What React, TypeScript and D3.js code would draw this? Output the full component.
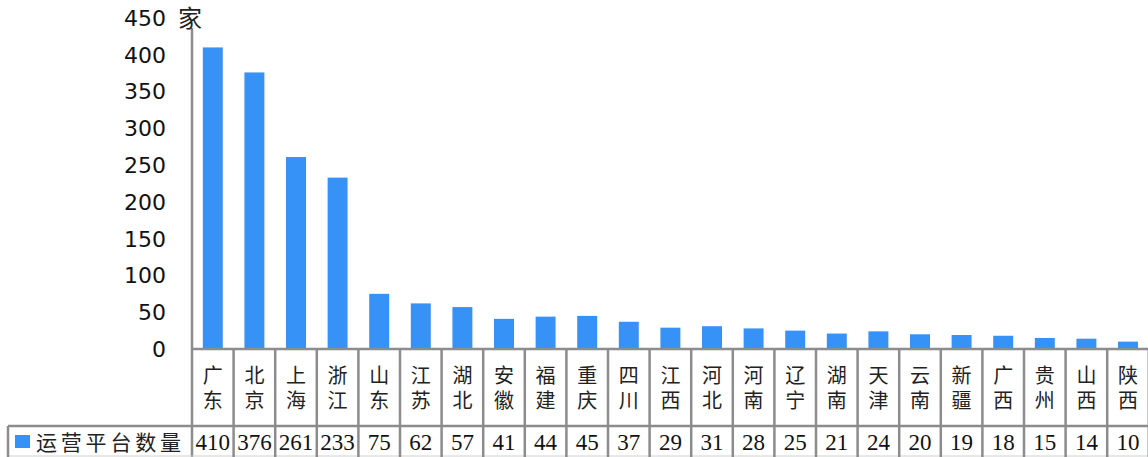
import React from 'react';
import * as d3 from 'd3';

// 各省运营平台数量
const provinces = ['广东', '北京', '上海', '浙江', '山东', '江苏', '湖北', '安徽', '福建', '重庆', '四川', '江西', '河北', '河南', '辽宁', '湖南', '天津', '云南', '新疆', '广西', '贵州', '山西', '陕西'];
const platformCounts = [410, 376, 261, 233, 75, 62, 57, 41, 44, 45, 37, 29, 31, 28, 25, 21, 24, 20, 19, 18, 15, 14, 10];
const yTicks = [0, 50, 100, 150, 200, 250, 300, 350, 400, 450];
const seriesName = '运营平台数量';
const unitLabel = '家';

const W = 1148;
const H = 457;
const BLUE = '#3792F7';
const GRID = '#8c8c8c';
const SERIF = '"Liberation Serif", "Noto Sans CJK SC", serif';

const App: React.FC = () => {
    const axisX = 192;
    const zeroY = 349;
    const rowTop = 426; // 数值行上边
    const step = 41.6;

    const x = d3.scaleBand<string>()
        .domain(provinces)
        .range([axisX, axisX + step * provinces.length])
        .paddingInner(0)
        .paddingOuter(0);

    const y = d3.scaleLinear()
        .domain([0, 450])
        .range([zeroY, 18]);

    const barW = x.bandwidth() * 0.48;

    return (
        <svg width={W} height={H} style={{ position: 'absolute', left: 0, top: 0, background: '#fff' }}>
            {/* 柱子 */}
            {provinces.map((p, i) => (
                <rect key={p}
                    x={(x(p) as number) + (x.bandwidth() - barW) / 2}
                    y={y(platformCounts[i])}
                    width={barW}
                    height={zeroY - y(platformCounts[i])}
                    fill={BLUE} />
            ))}

            {/* y 轴 */}
            <line x1={axisX} x2={axisX} y1={28} y2={H} stroke={GRID} strokeWidth={2.5} />
            {yTicks.map(t => (
                <text key={t} x={166} y={y(t)} dy="0.36em" textAnchor="end"
                    fontFamily='"DejaVu Sans", Verdana, sans-serif' fontSize={22} fill="#111">{t}</text>
            ))}
            <text x={178} y={y(450)} dy="0.36em" fontFamily={SERIF} fontSize={24} fill="#222">{unitLabel}</text>

            {/* 数据表 */}
            <line x1={axisX} x2={W} y1={zeroY} y2={zeroY} stroke={GRID} strokeWidth={2.5} />
            <line x1={8} x2={W} y1={rowTop} y2={rowTop} stroke={GRID} strokeWidth={2.5} />
            <line x1={8} x2={W} y1={456} y2={456} stroke="#d0d0d0" strokeWidth={1} />
            <line x1={8} x2={8} y1={rowTop} y2={H} stroke={GRID} strokeWidth={2.5} />
            {provinces.map((p, i) => {
                const x0 = x(p) as number;
                const cx = x0 + x.bandwidth() / 2;
                return (
                    <g key={p}>
                        <line x1={x0 + x.bandwidth()} x2={x0 + x.bandwidth()} y1={zeroY} y2={H} stroke={GRID} strokeWidth={2.5} />
                        <text x={cx} y={376} dy="0.36em" textAnchor="middle" fontFamily={SERIF} fontSize={20} fill="#222">{p[0]}</text>
                        <text x={cx} y={401} dy="0.36em" textAnchor="middle" fontFamily={SERIF} fontSize={20} fill="#222">{p[1]}</text>
                        <text x={cx} y={442} dy="0.36em" textAnchor="middle" fontFamily={SERIF} fontSize={23} fill="#111">{platformCounts[i]}</text>
                    </g>
                );
            })}

            {/* 图例 */}
            <rect x={15} y={435} width={15} height={13} fill={BLUE} />
            <text x={36} y={442} dy="0.36em" fontFamily={SERIF} fontSize={21} letterSpacing={3.8} fill="#222">{seriesName}</text>
        </svg>
    );
};

export default App;
